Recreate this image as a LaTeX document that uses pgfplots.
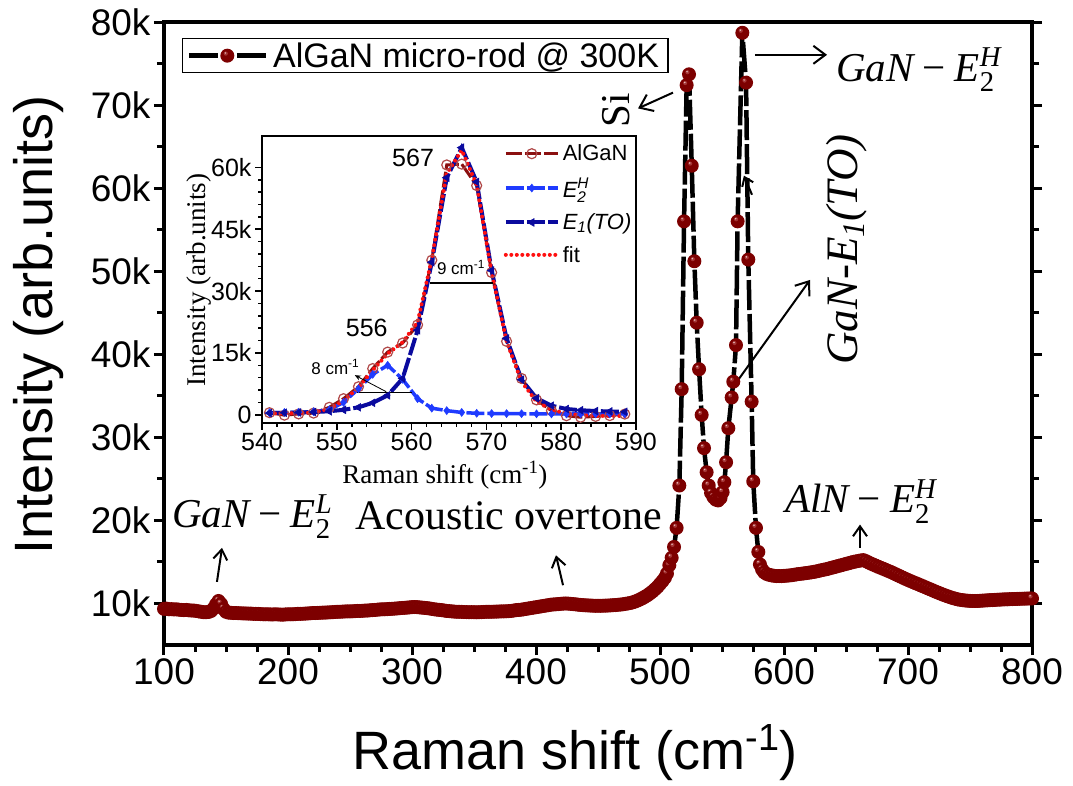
\documentclass[border=0pt]{standalone}
\usepackage{fix-cm}
\usepackage{amsmath}
\usepackage{fontspec}
\setmainfont{Liberation Sans}
\newfontfamily\tms{Liberation Serif}
\usepackage{pgfplots}
\usepackage{pgfplotstable}
\pgfplotsset{compat=1.18}
\usetikzlibrary{arrows.meta}

\definecolor{ballred}{HTML}{7D0000}
\definecolor{ballmid}{HTML}{A43434}
\definecolor{ballhi}{HTML}{E6BDBD}
\definecolor{alganred}{HTML}{8B1010}
\definecolor{circred}{HTML}{B04848}
\definecolor{e2blue}{HTML}{1F3BFF}
\definecolor{e1navy}{HTML}{0A0A9E}
\definecolor{fitred}{HTML}{FF1010}

% shaded sphere marker
\pgfdeclareplotmark{sph}{%
  \pgfpathcircle{\pgfpointorigin}{\pgfplotmarksize}%
  \pgfsetfillcolor{ballred}\pgfusepathqfill
  \pgfpathcircle{\pgfpoint{-0.22\pgfplotmarksize}{0.3\pgfplotmarksize}}{0.3\pgfplotmarksize}%
  \pgfsetfillcolor{ballmid}\pgfusepathqfill
  \pgfpathcircle{\pgfpoint{-0.28\pgfplotmarksize}{0.38\pgfplotmarksize}}{0.12\pgfplotmarksize}%
  \pgfsetfillcolor{ballhi}\pgfusepathqfill
}

% Raman spectrum, intensity in thousands of counts
\pgfplotstableread[row sep=\\]{
x y\\
100 9.35\\ 102 9.38\\ 104 9.30\\ 106 9.32\\ 108 9.28\\ 110 9.30\\ 112 9.25\\ 114 9.22\\ 116 9.20\\ 118 9.22\\
120 9.18\\ 122 9.15\\ 124 9.15\\ 126 9.10\\ 128 9.05\\ 130 9.00\\ 132 8.95\\ 134 8.95\\ 136 8.98\\ 138 9.10\\
140 9.40\\ 142 9.90\\ 144 10.30\\ 146 9.95\\ 148 9.35\\ 150 9.00\\ 152 8.90\\ 154 8.88\\ 156 8.85\\ 158 8.85\\
160 8.83\\ 162 8.82\\ 164 8.80\\ 166 8.80\\ 168 8.78\\ 170 8.78\\ 172 8.75\\ 174 8.75\\ 176 8.74\\ 178 8.72\\
180 8.70\\ 182 8.70\\ 184 8.70\\ 186 8.68\\ 188 8.68\\ 190 8.70\\ 192 8.68\\ 194 8.66\\ 196 8.65\\ 198 8.68\\
200 8.70\\ 202 8.70\\ 204 8.70\\ 206 8.72\\ 208 8.75\\ 210 8.75\\ 212 8.76\\ 214 8.78\\ 216 8.80\\ 218 8.82\\
220 8.85\\ 222 8.85\\ 224 8.86\\ 226 8.88\\ 228 8.90\\ 230 8.90\\ 232 8.92\\ 234 8.94\\ 236 8.95\\ 238 8.98\\
240 9.00\\ 242 9.00\\ 244 9.02\\ 246 9.04\\ 248 9.05\\ 250 9.05\\ 252 9.06\\ 254 9.08\\ 256 9.10\\ 258 9.10\\
260 9.12\\ 262 9.14\\ 264 9.15\\ 266 9.18\\ 268 9.20\\ 270 9.22\\ 272 9.25\\ 274 9.28\\ 276 9.30\\ 278 9.30\\
280 9.32\\ 282 9.34\\ 284 9.36\\ 286 9.38\\ 288 9.40\\ 290 9.43\\ 292 9.46\\ 294 9.48\\ 296 9.50\\ 298 9.53\\
300 9.56\\ 302 9.57\\ 304 9.56\\ 306 9.53\\ 308 9.50\\ 310 9.47\\ 312 9.44\\ 314 9.40\\ 316 9.35\\ 318 9.30\\
320 9.26\\ 322 9.23\\ 324 9.20\\ 326 9.15\\ 328 9.10\\ 330 9.08\\ 332 9.05\\ 334 9.02\\ 336 9.00\\ 338 9.00\\
340 8.99\\ 342 8.97\\ 344 8.96\\ 346 8.95\\ 348 8.95\\ 350 8.95\\ 352 8.94\\ 354 8.95\\ 356 8.96\\ 358 8.98\\
360 9.00\\ 362 9.00\\ 364 9.00\\ 366 9.01\\ 368 9.02\\ 370 9.03\\ 372 9.05\\ 374 9.05\\ 376 9.06\\ 378 9.08\\
380 9.10\\ 382 9.15\\ 384 9.20\\ 386 9.22\\ 388 9.25\\ 390 9.30\\ 392 9.35\\ 394 9.40\\ 396 9.45\\ 398 9.50\\
400 9.55\\ 402 9.60\\ 404 9.65\\ 406 9.70\\ 408 9.75\\ 410 9.80\\ 412 9.85\\ 414 9.88\\ 416 9.90\\ 418 9.93\\
420 9.96\\ 422 9.98\\ 424 10.00\\ 426 9.98\\ 428 9.95\\ 430 9.92\\ 432 9.90\\ 434 9.85\\ 436 9.82\\ 438 9.80\\
440 9.78\\ 442 9.76\\ 444 9.75\\ 446 9.73\\ 448 9.72\\ 450 9.72\\ 452 9.72\\ 454 9.73\\ 456 9.74\\ 458 9.75\\
460 9.77\\ 462 9.79\\ 464 9.81\\ 466 9.84\\ 468 9.87\\ 470 9.90\\ 472 9.95\\ 474 10.00\\ 476 10.06\\ 478 10.14\\
480 10.24\\ 482 10.36\\ 484 10.50\\ 486 10.65\\ 488 10.82\\ 490 11.00\\ 492 11.22\\ 494 11.45\\ 496 11.72\\ 498 12.00\\
500 12.35\\ 502 12.70\\ 504 13.10\\ 505.6 13.6\\ 507.5 14.6\\ 509.4 15.5\\ 511.3 16.8\\ 513.4 19.1\\ 515.6 24.2\\ 517.5 35.8\\
519.4 56.0\\ 521.5 72.4\\ 523.4 73.7\\ 525.6 62.7\\ 527.7 51.2\\ 529.6 43.8\\ 531.5 38.2\\ 533.6 32.7\\ 535.5 28.7\\ 537.6 25.8\\
539.3 24.2\\ 541.2 23.3\\ 543.1 22.8\\ 545.0 22.5\\ 546.9 22.4\\ 548.8 22.7\\ 550.5 23.4\\ 551.9 24.6\\ 553.3 27.0\\ 555.1 31.1\\
557.8 34.8\\ 559.1 36.7\\ 561.3 41.1\\ 562.6 56.0\\ 566.4 78.7\\ 569.4 72.7\\ 571.2 51.4\\ 573.9 34.3\\ 575.2 24.7\\ 577.4 19.1\\
579.3 16.2\\ 580.6 14.7\\ 582.3 14.1\\ 584 13.75\\ 586 13.55\\ 588 13.45\\ 590 13.38\\ 592 13.33\\ 594 13.30\\ 596 13.30\\
598 13.30\\ 600 13.32\\ 602 13.34\\ 604 13.37\\ 606 13.40\\ 608 13.45\\ 610 13.50\\ 612 13.55\\ 614 13.58\\ 616 13.62\\
618 13.66\\ 620 13.70\\ 622 13.75\\ 624 13.80\\ 626 13.86\\ 628 13.92\\ 630 14.00\\ 632 14.06\\ 634 14.12\\ 636 14.20\\
638 14.28\\ 640 14.36\\ 642 14.44\\ 644 14.52\\ 646 14.60\\ 648 14.68\\ 650 14.76\\ 652 14.84\\ 654 14.92\\ 656 15.00\\
658 15.06\\ 660 15.12\\ 662 15.18\\ 664 15.22\\ 666 15.10\\ 668 14.95\\ 670 14.80\\ 672 14.68\\ 674 14.55\\ 676 14.42\\
678 14.30\\ 680 14.18\\ 682 14.05\\ 684 13.92\\ 686 13.80\\ 688 13.66\\ 690 13.52\\ 692 13.38\\ 694 13.24\\ 696 13.10\\
698 12.96\\ 700 12.83\\ 702 12.70\\ 704 12.57\\ 706 12.45\\ 708 12.33\\ 710 12.20\\ 712 12.08\\ 714 11.95\\ 716 11.82\\
718 11.70\\ 720 11.57\\ 722 11.44\\ 724 11.32\\ 726 11.20\\ 728 11.08\\ 730 10.97\\ 732 10.86\\ 734 10.76\\ 736 10.66\\
738 10.58\\ 740 10.50\\ 742 10.44\\ 744 10.40\\ 746 10.36\\ 748 10.33\\ 750 10.31\\ 752 10.30\\ 754 10.30\\ 756 10.30\\
758 10.32\\ 760 10.34\\ 762 10.36\\ 764 10.38\\ 766 10.40\\ 768 10.41\\ 770 10.43\\ 772 10.45\\ 774 10.46\\ 776 10.48\\
778 10.50\\ 780 10.50\\ 782 10.52\\ 784 10.53\\ 786 10.54\\ 788 10.55\\ 790 10.56\\ 792 10.57\\ 794 10.58\\ 796 10.59\\
798 10.60\\ 800 10.60\\
}\mainspec

% zoom on the 540-590 band: measured, two components and their sum (thousands)
\pgfplotstableread[row sep=\\]{
x a e2 e1 fit\\
541.0 0.5 0.5 0.4 0.3\\
543.0 -0.1 0.55 0.5 0.35\\
544.9 0.2 0.6 0.55 0.4\\
546.9 0.4 0.75 0.65 0.55\\
549.0 1.8 1.2 0.85 1.4\\
550.9 3.9 3.0 1.2 3.4\\
552.9 6.8 6.3 1.8 6.6\\
554.8 11.2 9.8 2.9 10.8\\
556.8 15.2 12.0 4.7 14.8\\
558.8 17.4 8.6 8.8 17.6\\
560.8 21.8 3.9 20.5 22.5\\
562.7 37.5 1.6 37.0 37.8\\
564.7 60.6 1.0 57.5 58.5\\
566.7 60.8 0.56 64.8 64.2\\
568.7 55.6 0.35 56.5 55.8\\
570.7 34.5 0.3 35.0 34.5\\
572.7 17.8 0.28 18.5 17.8\\
574.7 8.8 0.25 8.5 8.0\\
576.7 3.6 0.22 4.0 3.2\\
578.7 1.0 0.2 2.2 1.2\\
580.7 -0.24 0.2 1.4 0.3\\
582.6 -0.6 0.2 1.1 -0.1\\
584.6 -0.4 0.2 0.9 -0.25\\
586.5 -0.2 0.2 0.8 -0.3\\
588.5 0.16 0.2 0.7 -0.3\\
}\insetdat

\begin{document}
\begin{tikzpicture}
\useasboundingbox (0pt,0pt) rectangle (1073pt,785pt);
\begin{axis}[
  at={(164pt,140pt)}, anchor=south west,
  scale only axis, width=868pt, height=623pt,
  xmin=100, xmax=800, ymin=5, ymax=80,
  xtick={100,200,...,800}, xticklabels={100,200,300,400,500,600,700,800},
  ytick={10,20,...,80}, yticklabels={10k,20k,30k,40k,50k,60k,70k,80k},
  minor x tick num=3, minor y tick num=1,
  xtick pos=lower, ytick pos=both, yticklabel pos=lower,
  tick align=outside,
  major tick length=10pt, minor tick length=7pt,
  tick style={black, line width=3pt},
  axis line style={line width=4pt},
  tick label style={font=\fontsize{37}{44}\selectfont},
  xlabel={Raman shift (cm\textsuperscript{-1})},
  ylabel={Intensity (arb.units)},
  every axis x label/.style={at={(axis description cs:0.4735,-0.2006)}, anchor=base, font=\fontsize{54}{60}\selectfont},
  every axis y label/.style={at={(axis description cs:-0.129,0.5136)}, anchor=base, rotate=90, font=\fontsize{54}{60}\selectfont},
  legend style={at={(axis description cs:0.0207,0.9743)}, anchor=north west,
    draw=black, line width=1.2pt, inner xsep=4pt, inner ysep=0pt,
    font=\fontsize{34}{40}\selectfont, nodes={inner xsep=5pt, inner ysep=4pt}},
  legend cell align=left,
  legend image code/.code={
    \draw[black, line width=4.5pt] (0pt,0pt) -- (29pt,0pt) (48pt,0pt) -- (77pt,0pt);
    \draw[#1] plot coordinates {(38.5pt,0pt)};
  },
]
\addplot[forget plot, black, line width=4.5pt, dash pattern=on 30pt off 4pt, line join=round] table {\mainspec};
\addplot[only marks, mark=sph, mark size=7pt] table {\mainspec};
\addlegendentry{AlGaN micro-rod @ 300K}

% peak annotations
\draw[-{Straight Barb[length=12pt,width=18pt]}, line width=2pt] (axis cs:576.6,76.05) -- (axis cs:634.7,76.05);
\node[anchor=base west, inner sep=0pt, font=\tms\fontsize{41}{49}\selectfont] at (axis cs:641.9,72.8)
  {\itshape GaN\hspace{0.22em}\upshape−\hspace{0.22em}\itshape E$_{\text{\upshape 2}}^{\text{H}}$};

\node[rotate=90, anchor=base, inner sep=0pt, font=\tms\fontsize{41}{49}\selectfont] at (axis cs:475.8,69.4) {Si};
\draw[-{Straight Barb[length=12pt,width=18pt]}, line width=2pt] (axis cs:510.5,71.5) -- (axis cs:482.3,69.6);

\node[rotate=90, anchor=base, inner sep=0pt, font=\tms\itshape\fontsize{45}{52}\selectfont] at (axis cs:659.4,52.6)
  {GaN-E$_{\text{1}}$(TO)};
\draw[-{Straight Barb[length=12pt,width=18pt]}, line width=2pt] (axis cs:561.3,36.55) -- (axis cs:621.0,48.95);
\draw[-{Straight Barb[length=8pt,width=12pt]}, line width=2pt] (axis cs:574.2,59.2) -- (axis cs:567.7,61.5);

\node[anchor=base west, inner sep=0pt, font=\tms\fontsize{41}{49}\selectfont] at (axis cs:600.8,20.9)
  {\itshape AlN\hspace{0.22em}\upshape−\hspace{0.22em}\itshape E$_{\text{\upshape 2}}^{\text{H}}$};
\draw[-{Straight Barb[length=10pt,width=14pt]}, line width=2pt] (axis cs:661.3,16.7) -- (axis cs:661.3,19.5);

\node[anchor=base west, inner sep=0pt, font=\tms\fontsize{42}{50}\selectfont] at (axis cs:254,18.85) {Acoustic overtone};
\draw[-{Straight Barb[length=10pt,width=14pt]}, line width=2pt] (axis cs:421.8,12.2) -- (axis cs:416.1,15.8);

\node[anchor=base west, inner sep=0pt, font=\tms\fontsize{41}{49}\selectfont] at (axis cs:106.5,19.1)
  {\itshape GaN\hspace{0.22em}\upshape−\hspace{0.22em}\itshape E$_{\text{\upshape 2}}^{\text{L}}$};
\draw[-{Straight Barb[length=10pt,width=14pt]}, line width=2pt] (axis cs:142.7,12.6) -- (axis cs:146.8,16.7);
\end{axis}

\begin{axis}[
  at={(262pt,362pt)}, anchor=south west,
  scale only axis, width=374pt, height=286.5pt,
  xmin=540, xmax=590, ymin=-2, ymax=67.5,
  axis background/.style={fill=white},
  xtick={540,550,...,590}, xticklabels={540,550,560,570,580,590},
  ytick={0,15,30,45,60}, yticklabels={0,15k,30k,45k,60k},
  minor x tick num=4, minor y tick num=4,
  xtick pos=lower, ytick pos=lower,
  tick align=outside,
  major tick length=7pt, minor tick length=4pt,
  tick style={black, line width=1.5pt},
  axis line style={line width=2pt},
  tick label style={font=\fontsize{25}{30}\selectfont},
  xlabel={Raman shift (cm\textsuperscript{-1})},
  ylabel={Intensity (arb.units)},
  every axis x label/.style={at={(axis description cs:0.489,-0.2105)}, anchor=base, font=\tms\fontsize{27}{32}\selectfont},
  every axis y label/.style={at={(axis description cs:-0.152,0.499)}, anchor=base, rotate=90, font=\tms\fontsize{27}{32}\selectfont},
  legend style={at={(0.638,0.985)}, anchor=north west, draw=none, fill=none,
    font=\fontsize{22}{26}\selectfont, row sep=11pt, nodes={inner xsep=3pt, inner ysep=2pt}},
  legend cell align=left,
  legend image code/.code={\draw[#1, mark repeat=2, mark phase=2] plot coordinates {(0pt,0pt) (26pt,0pt) (52pt,0pt)};},
]
\addplot[alganred, line width=3pt, dash pattern=on 16pt off 3pt, mark=o, mark size=5pt,
  mark options={solid, draw=circred, line width=1.2pt, fill=none}] table[x=x, y=a] {\insetdat};
\addlegendentry{AlGaN}
\addplot[e2blue, line width=3.5pt, dash pattern=on 18pt off 3pt, mark=diamond*, mark size=4pt,
  mark options={solid, line width=0.5pt}] table[x=x, y=e2] {\insetdat};
\addlegendentry{$\text{\itshape E}_{\text{\itshape 2}}^{\text{\itshape H}}$}
\addplot[e1navy, line width=4pt, dash pattern=on 18pt off 3pt, mark=triangle*, mark size=4.5pt,
  mark options={solid, rotate=90, line width=0.5pt}] table[x=x, y=e1] {\insetdat};
\addlegendentry{\itshape E$_{\text{1}}$(TO)}
\addplot[fitred, line width=4pt, dash pattern=on 0pt off 5.5pt, line cap=round] table[x=x, y=fit] {\insetdat};
\addlegendentry{fit}

\node[font=\fontsize{25}{30}\selectfont] at (axis cs:560.2,62.4) {567};
\node[font=\fontsize{25}{30}\selectfont] at (axis cs:554.0,21.0) {556};
\node[font=\fontsize{17}{20}\selectfont] at (axis cs:566.6,35.8) {9 cm\textsuperscript{-1}};
\node[font=\fontsize{17}{20}\selectfont] at (axis cs:549.8,11.6) {8 cm\textsuperscript{-1}};
\draw[line width=1.5pt] (axis cs:562.4,32) -- (axis cs:570.9,32);
\draw[line width=1.5pt] (axis cs:552.7,5.4) -- (axis cs:560.0,5.4);
\draw[-{Stealth[length=6pt,width=5pt]}, line width=0.8pt] (axis cs:556.6,5.6) -- (axis cs:552.4,9.6);
\end{axis}
\end{tikzpicture}
\end{document}
